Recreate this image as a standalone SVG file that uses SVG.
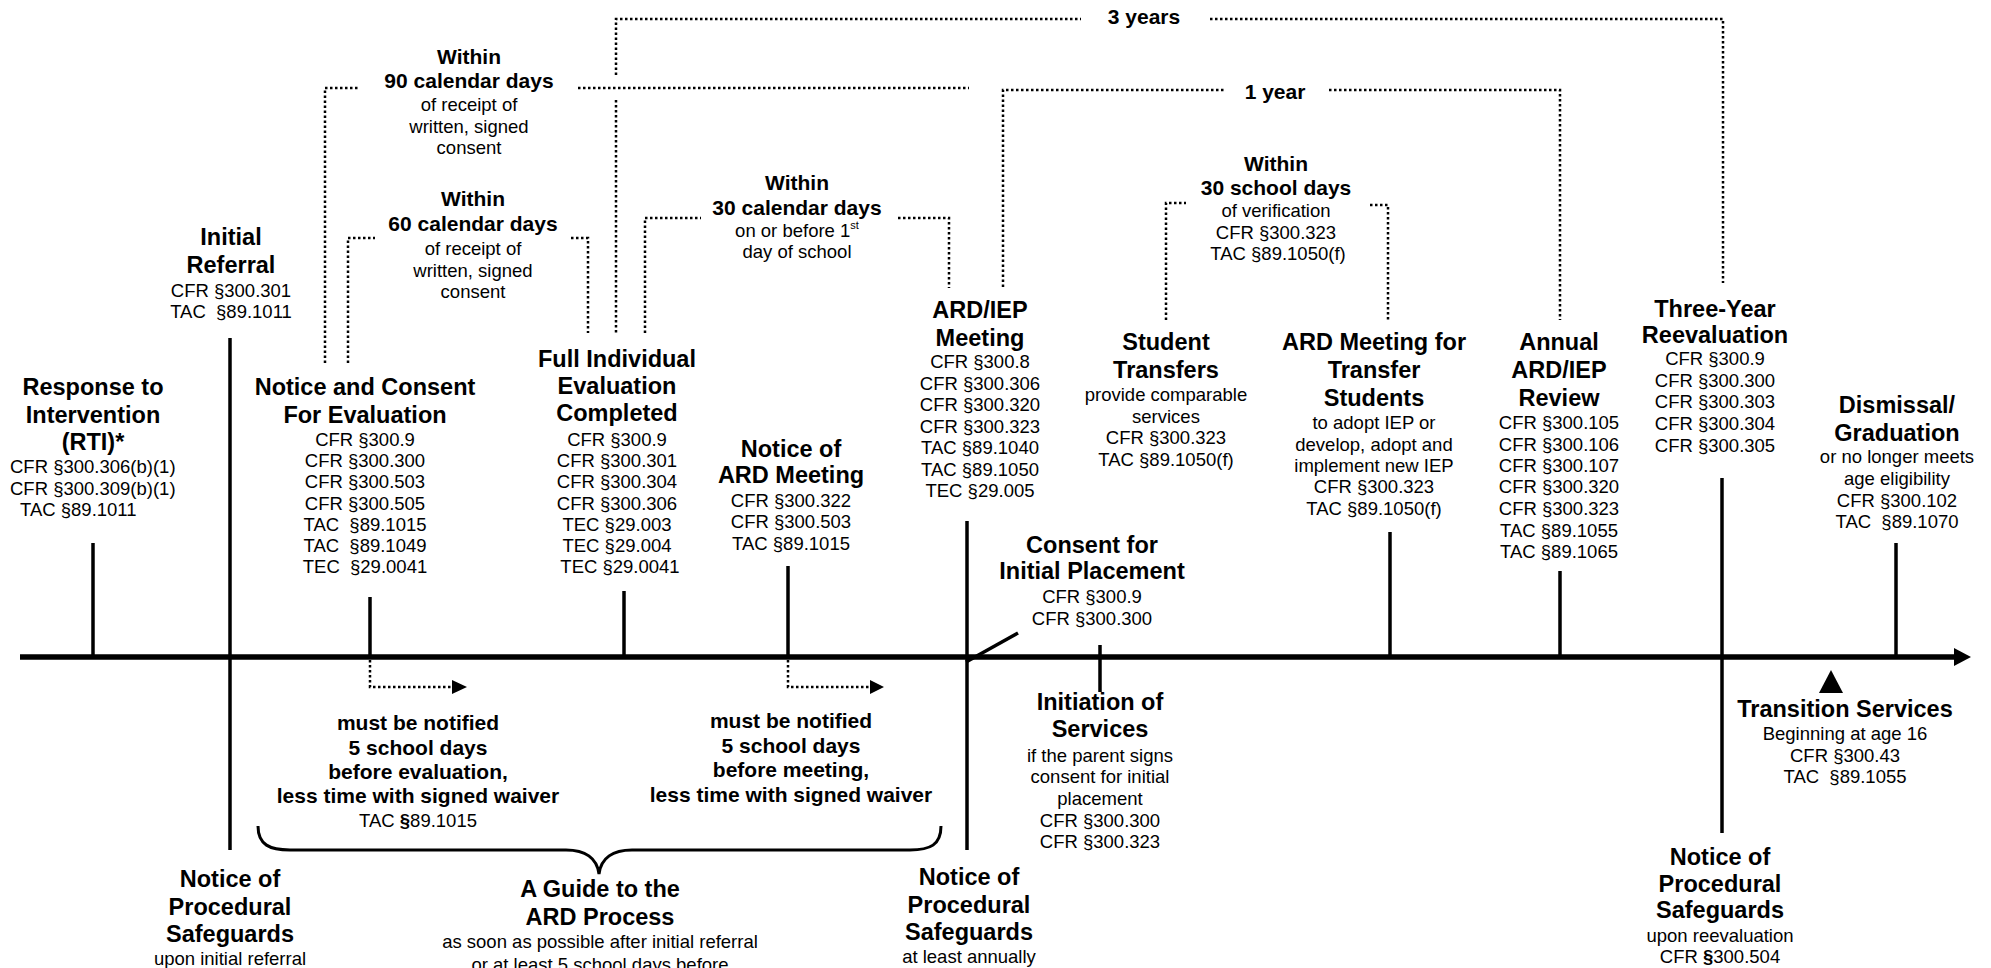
<svg xmlns="http://www.w3.org/2000/svg" width="1991" height="968" viewBox="0 0 1991 968">
<style>
text{font-family:"Liberation Sans",Arial,sans-serif;fill:#000;text-anchor:middle}
.t{font-size:23.5px;font-weight:bold}
.b{font-size:21px;font-weight:bold}
.s{font-size:18.5px}
.l{text-anchor:start}
.tick{stroke:#000;stroke-width:3.5;fill:none}
.dot{stroke:#000;stroke-width:2.5;stroke-dasharray:2.5 2.5;fill:none}
</style>
<rect width="1991" height="968" fill="#fff"/>
<g id="connectors">
<line x1="20" y1="657" x2="1956" y2="657" stroke="#000" stroke-width="5.5"/>
<polygon points="1954,648 1971,657 1954,666" fill="#000"/>
<line class="tick" x1="93" y1="543" x2="93" y2="657"/>
<line class="tick" x1="230" y1="338" x2="230" y2="850"/>
<line class="tick" x1="370" y1="597" x2="370" y2="657"/>
<line class="tick" x1="624" y1="591" x2="624" y2="657"/>
<line class="tick" x1="788" y1="566" x2="788" y2="657"/>
<line class="tick" x1="967" y1="521" x2="967" y2="850"/>
<line class="tick" x1="1018" y1="633" x2="966" y2="662"/>
<line class="tick" x1="1100" y1="645" x2="1100" y2="692"/>
<line class="tick" x1="1390" y1="532" x2="1390" y2="657"/>
<line class="tick" x1="1560" y1="571" x2="1560" y2="657"/>
<line class="tick" x1="1722" y1="478" x2="1722" y2="833"/>
<line class="tick" x1="1896" y1="543" x2="1896" y2="657"/>
<polygon points="1831,670 1843,693 1819,693" fill="#000"/>
<path class="dot" d="M616,75 V19 H1081 M1210,19 H1723 V283 M616,100 V333"/>
<path class="dot" d="M325,363 V88 H360 M578,88 H969"/>
<path class="dot" d="M348,363 V238 H375 M571,238 H588 V333"/>
<path class="dot" d="M645,333 V218 H701 M898,218 H949 V288"/>
<path class="dot" d="M1003,287 V90 H1224 M1329,90 H1560 V320"/>
<path class="dot" d="M1166,320 V203 H1186 M1370,205 H1388 V320"/>
<path class="dot" d="M370,660 V687 H452 M788,660 V687 H870"/>
<polygon points="452,680 467,687 452,694" fill="#000"/>
<polygon points="870,680 884,687 870,694" fill="#000"/>
<path d="M258,826 C258,845 270,850 290,850 H566 C585,850 597,858 599,874 C601,858 613,850 632,850 H910 C930,850 941,845 941,826" stroke="#000" stroke-width="3" fill="none"/>
</g>
<g id="span-3-years"><text class="b" x="1144" y="24">3 years</text></g>
<g id="span-1-year"><text class="b" x="1275" y="99">1 year</text></g>
<g id="span-90-days">
<text class="b" x="469" y="64">Within</text>
<text class="b" x="469" y="88">90 calendar days</text>
<text class="s" x="469" y="111">of receipt of</text>
<text class="s" x="469" y="133">written, signed</text>
<text class="s" x="469" y="154">consent</text>
</g>
<g id="span-60-days">
<text class="b" x="473" y="206">Within</text>
<text class="b" x="473" y="231">60 calendar days</text>
<text class="s" x="473" y="255">of receipt of</text>
<text class="s" x="473" y="277">written, signed</text>
<text class="s" x="473" y="298">consent</text>
</g>
<g id="span-30-calendar-days">
<text class="b" x="797" y="190">Within</text>
<text class="b" x="797" y="215">30 calendar days</text>
<text class="s" x="797" y="237">on or before 1<tspan dy="-8" font-size="11">st</tspan></text>
<text class="s" x="797" y="258">day of school</text>
</g>
<g id="span-30-school-days">
<text class="b" x="1276" y="171">Within</text>
<text class="b" x="1276" y="195">30 school days</text>
<text class="s" x="1276" y="217">of verification</text>
<text class="s" x="1276" y="239">CFR §300.323</text>
<text class="s" x="1278" y="260">TAC §89.1050(f)</text>
</g>
<g id="rti">
<text class="t" x="93" y="395">Response to</text>
<text class="t" x="93" y="423">Intervention</text>
<text class="t" x="93" y="450">(RTI)*</text>
<text class="s l" x="10" y="473">CFR §300.306(b)(1)</text>
<text class="s l" x="10" y="495">CFR §300.309(b)(1)</text>
<text class="s l" x="20" y="516">TAC §89.1011</text>
</g>
<g id="initial-referral">
<text class="t" x="231" y="245">Initial</text>
<text class="t" x="231" y="273">Referral</text>
<text class="s" x="231" y="297">CFR §300.301</text>
<text class="s" x="231" y="318" xml:space="preserve">TAC  §89.1011</text>
</g>
<g id="notice-consent">
<text class="t" x="365" y="395">Notice and Consent</text>
<text class="t" x="365" y="423">For Evaluation</text>
<text class="s" x="365" y="446">CFR §300.9</text>
<text class="s" x="365" y="467">CFR §300.300</text>
<text class="s" x="365" y="488">CFR §300.503</text>
<text class="s" x="365" y="510">CFR §300.505</text>
<text class="s" x="365" y="531" xml:space="preserve">TAC  §89.1015</text>
<text class="s" x="365" y="552" xml:space="preserve">TAC  §89.1049</text>
<text class="s" x="365" y="573" xml:space="preserve">TEC  §29.0041</text>
</g>
<g id="full-evaluation">
<text class="t" x="617" y="367">Full Individual</text>
<text class="t" x="617" y="394">Evaluation</text>
<text class="t" x="617" y="421">Completed</text>
<text class="s" x="617" y="446">CFR §300.9</text>
<text class="s" x="617" y="467">CFR §300.301</text>
<text class="s" x="617" y="488">CFR §300.304</text>
<text class="s" x="617" y="510">CFR §300.306</text>
<text class="s" x="617" y="531">TEC §29.003</text>
<text class="s" x="617" y="552">TEC §29.004</text>
<text class="s" x="620" y="573">TEC §29.0041</text>
</g>
<g id="notice-ard">
<text class="t" x="791" y="457">Notice of</text>
<text class="t" x="791" y="483">ARD Meeting</text>
<text class="s" x="791" y="507">CFR §300.322</text>
<text class="s" x="791" y="528">CFR §300.503</text>
<text class="s" x="791" y="550">TAC §89.1015</text>
</g>
<g id="ard-iep-meeting">
<text class="t" x="980" y="318">ARD/IEP</text>
<text class="t" x="980" y="346">Meeting</text>
<text class="s" x="980" y="368">CFR §300.8</text>
<text class="s" x="980" y="390">CFR §300.306</text>
<text class="s" x="980" y="411">CFR §300.320</text>
<text class="s" x="980" y="433">CFR §300.323</text>
<text class="s" x="980" y="454">TAC §89.1040</text>
<text class="s" x="980" y="476">TAC §89.1050</text>
<text class="s" x="980" y="497">TEC §29.005</text>
</g>
<g id="student-transfers">
<text class="t" x="1166" y="350">Student</text>
<text class="t" x="1166" y="378">Transfers</text>
<text class="s" x="1166" y="401">provide comparable</text>
<text class="s" x="1166" y="423">services</text>
<text class="s" x="1166" y="444">CFR §300.323</text>
<text class="s" x="1166" y="466">TAC §89.1050(f)</text>
</g>
<g id="ard-transfer">
<text class="t" x="1374" y="350">ARD Meeting for</text>
<text class="t" x="1374" y="378">Transfer</text>
<text class="t" x="1374" y="406">Students</text>
<text class="s" x="1374" y="429">to adopt IEP or</text>
<text class="s" x="1374" y="451">develop, adopt and</text>
<text class="s" x="1374" y="472">implement new IEP</text>
<text class="s" x="1374" y="493">CFR §300.323</text>
<text class="s" x="1374" y="515">TAC §89.1050(f)</text>
</g>
<g id="annual-review">
<text class="t" x="1559" y="350">Annual</text>
<text class="t" x="1559" y="378">ARD/IEP</text>
<text class="t" x="1559" y="406">Review</text>
<text class="s" x="1559" y="429">CFR §300.105</text>
<text class="s" x="1559" y="451">CFR §300.106</text>
<text class="s" x="1559" y="472">CFR §300.107</text>
<text class="s" x="1559" y="493">CFR §300.320</text>
<text class="s" x="1559" y="515">CFR §300.323</text>
<text class="s" x="1559" y="537">TAC §89.1055</text>
<text class="s" x="1559" y="558">TAC §89.1065</text>
</g>
<g id="three-year">
<text class="t" x="1715" y="317">Three-Year</text>
<text class="t" x="1715" y="343">Reevaluation</text>
<text class="s" x="1715" y="365">CFR §300.9</text>
<text class="s" x="1715" y="387">CFR §300.300</text>
<text class="s" x="1715" y="408">CFR §300.303</text>
<text class="s" x="1715" y="430">CFR §300.304</text>
<text class="s" x="1715" y="452">CFR §300.305</text>
</g>
<g id="dismissal">
<text class="t" x="1897" y="413">Dismissal/</text>
<text class="t" x="1897" y="441">Graduation</text>
<text class="s" x="1897" y="463">or no longer meets</text>
<text class="s" x="1897" y="485">age eligibility</text>
<text class="s" x="1897" y="507">CFR §300.102</text>
<text class="s" x="1897" y="528" xml:space="preserve">TAC  §89.1070</text>
</g>
<g id="consent-placement">
<text class="t" x="1092" y="553">Consent for</text>
<text class="t" x="1092" y="579">Initial Placement</text>
<text class="s" x="1092" y="603">CFR §300.9</text>
<text class="s" x="1092" y="625">CFR §300.300</text>
</g>
<g id="initiation-services">
<text class="t" x="1100" y="710">Initiation of</text>
<text class="t" x="1100" y="737">Services</text>
<text class="s" x="1100" y="762">if the parent signs</text>
<text class="s" x="1100" y="783">consent for initial</text>
<text class="s" x="1100" y="805">placement</text>
<text class="s" x="1100" y="827">CFR §300.300</text>
<text class="s" x="1100" y="848">CFR §300.323</text>
</g>
<g id="transition-services">
<text class="t" x="1845" y="717">Transition Services</text>
<text class="s" x="1845" y="740">Beginning at age 16</text>
<text class="s" x="1845" y="762">CFR §300.43</text>
<text class="s" x="1845" y="783" xml:space="preserve">TAC  §89.1055</text>
</g>
<g id="notify-evaluation">
<text class="b" x="418" y="730">must be notified</text>
<text class="b" x="418" y="755">5 school days</text>
<text class="b" x="418" y="779">before evaluation,</text>
<text class="b" x="418" y="803">less time with signed waiver</text>
<text class="s" x="418" y="827">TAC <tspan font-weight="bold">§</tspan>89.1015</text>
</g>
<g id="notify-meeting">
<text class="b" x="791" y="728">must be notified</text>
<text class="b" x="791" y="753">5 school days</text>
<text class="b" x="791" y="777">before meeting,</text>
<text class="b" x="791" y="802">less time with signed waiver</text>
</g>
<g id="safeguards-referral">
<text class="t" x="230" y="887">Notice of</text>
<text class="t" x="230" y="915">Procedural</text>
<text class="t" x="230" y="942">Safeguards</text>
<text class="s" x="230" y="965">upon initial referral</text>
</g>
<g id="guide-ard">
<text class="t" x="600" y="897">A Guide to the</text>
<text class="t" x="600" y="925">ARD Process</text>
<text class="s" x="600" y="948">as soon as possible after initial referral</text>
<text class="s" x="600" y="971">or at least 5 school days before</text>
</g>
<g id="safeguards-annual">
<text class="t" x="969" y="885">Notice of</text>
<text class="t" x="969" y="913">Procedural</text>
<text class="t" x="969" y="940">Safeguards</text>
<text class="s" x="969" y="963">at least annually</text>
</g>
<g id="safeguards-reevaluation">
<text class="t" x="1720" y="865">Notice of</text>
<text class="t" x="1720" y="892">Procedural</text>
<text class="t" x="1720" y="918">Safeguards</text>
<text class="s" x="1720" y="942">upon reevaluation</text>
<text class="s" x="1720" y="963">CFR <tspan font-weight="bold">§</tspan>300.504</text>
</g>
</svg>
